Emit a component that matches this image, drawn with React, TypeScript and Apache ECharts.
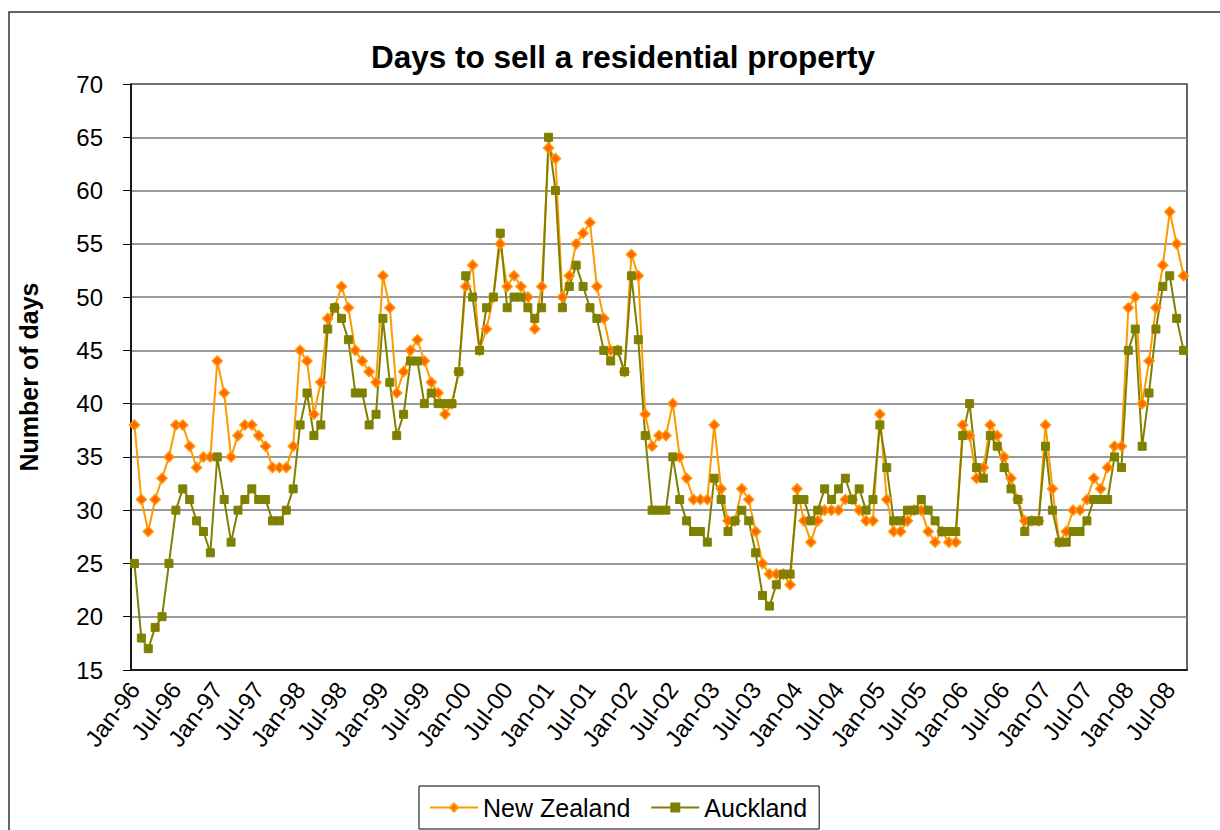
import React, { useEffect, useRef } from "react";
import * as echarts from "echarts";

const MONTHS = ["Jan", "Feb", "Mar", "Apr", "May", "Jun", "Jul", "Aug", "Sep", "Oct", "Nov", "Dec"];
const YEARS = ["96", "97", "98", "99", "00", "01", "02", "03", "04", "05", "06", "07", "08"];
const LAST_MONTH_INDEX = 8; // Sep-08

const categories: string[] = [];
YEARS.forEach((y, yi) => {
  MONTHS.forEach((m, mi) => {
    if (yi === YEARS.length - 1 && mi > LAST_MONTH_INDEX) return;
    categories.push(`${m}-${y}`);
  });
});

const newZealand = [
  38, 31, 28, 31, 33, 35, 38, 38, 36, 34, 35, 35,
  44, 41, 35, 37, 38, 38, 37, 36, 34, 34, 34, 36,
  45, 44, 39, 42, 48, 49, 51, 49, 45, 44, 43, 42,
  52, 49, 41, 43, 45, 46, 44, 42, 41, 39, 40, 43,
  51, 53, 45, 47, 50, 55, 51, 52, 51, 50, 47, 51,
  64, 63, 50, 52, 55, 56, 57, 51, 48, 45, 45, 43,
  54, 52, 39, 36, 37, 37, 40, 35, 33, 31, 31, 31,
  38, 32, 29, 29, 32, 31, 28, 25, 24, 24, 24, 23,
  32, 29, 27, 29, 30, 30, 30, 31, 31, 30, 29, 29,
  39, 31, 28, 28, 29, 30, 30, 28, 27, 28, 27, 27,
  38, 37, 33, 34, 38, 37, 35, 33, 31, 29, 29, 29,
  38, 32, 27, 28, 30, 30, 31, 33, 32, 34, 36, 36,
  49, 50, 40, 44, 49, 53, 58, 55, 52,
];

const auckland = [
  25, 18, 17, 19, 20, 25, 30, 32, 31, 29, 28, 26,
  35, 31, 27, 30, 31, 32, 31, 31, 29, 29, 30, 32,
  38, 41, 37, 38, 47, 49, 48, 46, 41, 41, 38, 39,
  48, 42, 37, 39, 44, 44, 40, 41, 40, 40, 40, 43,
  52, 50, 45, 49, 50, 56, 49, 50, 50, 49, 48, 49,
  65, 60, 49, 51, 53, 51, 49, 48, 45, 44, 45, 43,
  52, 46, 37, 30, 30, 30, 35, 31, 29, 28, 28, 27,
  33, 31, 28, 29, 30, 29, 26, 22, 21, 23, 24, 24,
  31, 31, 29, 30, 32, 31, 32, 33, 31, 32, 30, 31,
  38, 34, 29, 29, 30, 30, 31, 30, 29, 28, 28, 28,
  37, 40, 34, 33, 37, 36, 34, 32, 31, 28, 29, 29,
  36, 30, 27, 27, 28, 28, 29, 31, 31, 31, 35, 34,
  45, 47, 36, 41, 47, 51, 52, 48, 45,
];

const TITLE = "Days to sell a residential property";
const Y_NAME = "Number of days";
const SERIES_NAMES = ["New Zealand", "Auckland"];

const FONT = "'Liberation Sans', Arial, sans-serif";

export default function App() {
  const ref = useRef<HTMLDivElement>(null);

  useEffect(() => {
    document.body.style.margin = "0";
    if (!ref.current) return;
    const chart = echarts.init(ref.current, undefined, { renderer: "svg" });
    chart.setOption({
      animation: false,
      backgroundColor: "#ffffff",
      textStyle: { fontFamily: FONT },
      graphic: [
        {
          type: "rect",
          z: -10,
          shape: { x: 9, y: 12, width: 1240, height: 900 },
          style: { fill: "none", stroke: "#333333", lineWidth: 1.5 },
        },
        {
          type: "text",
          x: 623,
          y: 57,
          style: {
            text: TITLE,
            textAlign: "center",
            textVerticalAlign: "middle",
            font: `bold 31.5px ${FONT}`,
            fill: "#000000",
          },
        },
      ],
      grid: {
        left: 131,
        top: 84,
        right: 33,
        bottom: 160,
        show: true,
        borderColor: "#333333",
        borderWidth: 1.5,
        containLabel: false,
      },
      legend: {
        data: SERIES_NAMES,
        left: 419,
        top: 786,
        orient: "horizontal",
        itemWidth: 48,
        itemHeight: 10,
        itemGap: 20,
        padding: [9, 12, 9, 10],
        borderColor: "#000000",
        borderWidth: 1,
        textStyle: { fontSize: 25, color: "#000000", fontFamily: FONT },
      },
      xAxis: {
        type: "category",
        data: categories,
        boundaryGap: true,
        axisLine: { lineStyle: { color: "#000000", width: 1.5 } },
        axisTick: { interval: 5, length: 8, lineStyle: { color: "#000000" } },
        axisLabel: {
          interval: 5,
          rotate: 53,
          fontSize: 24,
          color: "#000000",
          margin: 15,
          fontFamily: FONT,
        },
        splitLine: { show: false },
      },
      yAxis: {
        type: "value",
        min: 15,
        max: 70,
        interval: 5,
        name: Y_NAME,
        nameLocation: "middle",
        nameGap: 90,
        nameRotate: 90,
        nameTextStyle: { fontSize: 25, fontWeight: "bold", color: "#000000", fontFamily: FONT },
        axisLine: { show: true, lineStyle: { color: "#000000", width: 1.5 } },
        axisTick: { show: true, length: 8, lineStyle: { color: "#000000" } },
        axisLabel: { fontSize: 24, color: "#000000", margin: 28, fontFamily: FONT },
        splitLine: { show: true, lineStyle: { color: "#777777", width: 1.5 } },
      },
      series: [
        {
          name: SERIES_NAMES[0],
          type: "line",
          data: newZealand,
          symbol: "diamond",
          symbolSize: 10,
          showAllSymbol: true,
          lineStyle: { color: "#FF9900", width: 2 },
          itemStyle: { color: "#FF6600", borderColor: "#FF9900", borderWidth: 1.5 },
        },
        {
          name: SERIES_NAMES[1],
          type: "line",
          data: auckland,
          symbol: "rect",
          symbolSize: 8,
          showAllSymbol: true,
          lineStyle: { color: "#808000", width: 2 },
          itemStyle: { color: "#808000", borderColor: "#808000", borderWidth: 1 },
        },
      ],
    });
    return () => chart.dispose();
  }, []);

  return <div ref={ref} style={{ width: 1220, height: 830 }} />;
}
